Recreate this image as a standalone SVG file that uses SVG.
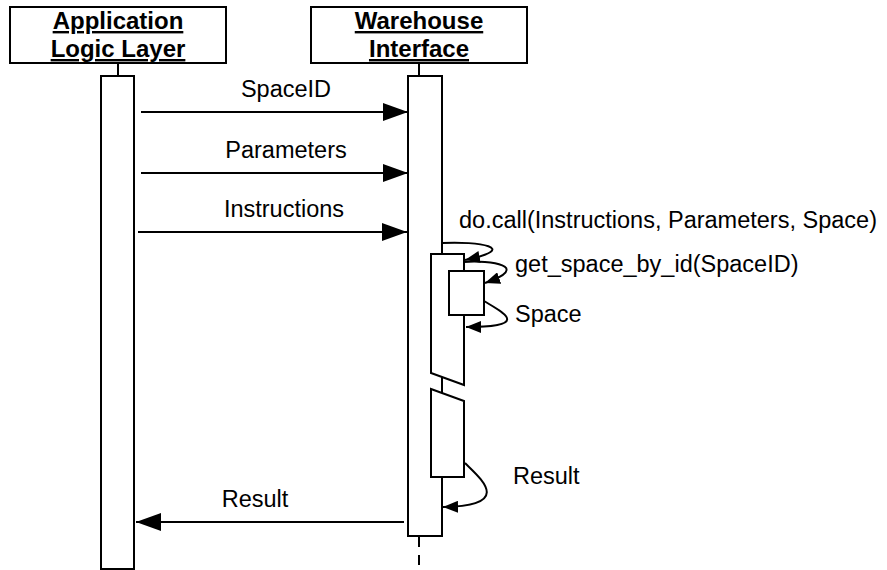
<svg xmlns="http://www.w3.org/2000/svg" width="887" height="570" viewBox="0 0 887 570">
<style>
.box{fill:#fff;stroke:#000;stroke-width:2}
.ln{fill:none;stroke:#000;stroke-width:2}
.hd{font-family:"Liberation Sans",Arial,sans-serif;font-size:24px;font-weight:bold;text-decoration:underline;text-anchor:middle;fill:#000}
.lb{font-family:"Liberation Sans",Arial,sans-serif;font-size:23.5px;fill:#000}
</style>
<defs>
<marker id="big" markerUnits="userSpaceOnUse" viewBox="0 0 25 18" refX="25" refY="9" markerWidth="25" markerHeight="18" orient="auto"><path d="M0,0 L25,9 L0,18 z" fill="#000"/></marker>
<marker id="sm" markerUnits="userSpaceOnUse" viewBox="0 0 15 12" refX="15" refY="6" markerWidth="15" markerHeight="12" orient="auto"><path d="M0,0 L15,6 L0,12 z" fill="#000"/></marker>
</defs>
<rect width="887" height="570" fill="#fff"/>
<g id="app">
<rect class="box" x="10" y="7" width="216" height="56"/>
<text class="hd" x="118" y="29">Application</text>
<text class="hd" x="118" y="57">Logic Layer</text>
<line class="ln" x1="118" y1="63" x2="118" y2="76"/>
<rect class="box" x="101" y="76" width="33" height="493"/>
</g>
<g id="warehouse">
<rect class="box" x="311" y="7" width="216" height="56"/>
<text class="hd" x="419" y="29">Warehouse</text>
<text class="hd" x="419" y="57">Interface</text>
<line class="ln" x1="419" y1="63" x2="419" y2="76"/>
<rect class="box" x="408" y="76" width="34" height="460"/>
<line class="ln" x1="419" y1="537" x2="419" y2="570" stroke-dasharray="10,8"/>
</g>
<g id="docall">
<polygon class="box" points="431,254 464,254 464,385 431,373"/>
<polygon class="box" points="431,389 464,401 464,477 431,477"/>
</g>
<g id="getspace">
<rect class="box" x="449" y="271" width="35" height="44"/>
</g>
<g id="connectors">
<line class="ln" x1="141" y1="112" x2="408" y2="112" marker-end="url(#big)"/>
<line class="ln" x1="141" y1="173" x2="408" y2="173" marker-end="url(#big)"/>
<line class="ln" x1="138" y1="232" x2="407" y2="232" marker-end="url(#big)"/>
<line class="ln" x1="404" y1="522" x2="136" y2="522" marker-end="url(#big)"/>
<path class="ln" d="M442,243 C478,241 522,248 465,260" marker-end="url(#sm)"/>
<path class="ln" d="M464,262 C490,260 533,266 485,283" marker-end="url(#sm)"/>
<path class="ln" d="M484,301 C500,311 535,327 466,327" marker-end="url(#sm)"/>
<path class="ln" d="M465,463 C480,478 515,506 443,507" marker-end="url(#sm)"/>
</g>
<g id="labels">
<text class="lb" x="286" y="97" text-anchor="middle">SpaceID</text>
<text class="lb" x="286" y="158" text-anchor="middle">Parameters</text>
<text class="lb" x="284" y="217" text-anchor="middle">Instructions</text>
<text class="lb" x="459" y="228">do.call(Instructions, Parameters, Space)</text>
<text class="lb" x="515" y="272">get_space_by_id(SpaceID)</text>
<text class="lb" x="515" y="322">Space</text>
<text class="lb" x="513" y="484">Result</text>
<text class="lb" x="255" y="507" text-anchor="middle">Result</text>
</g>
</svg>
